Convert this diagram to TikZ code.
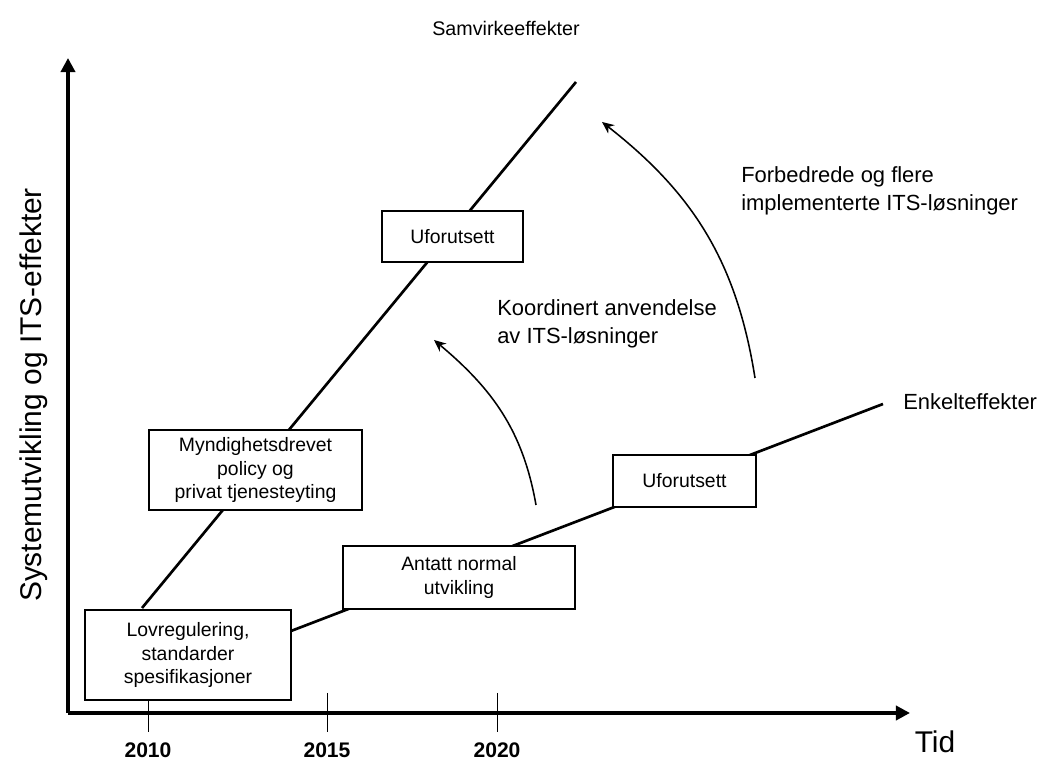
\documentclass[tikz,border=0pt]{standalone}
\usepackage{fontspec}
\setmainfont{Liberation Sans}
\usetikzlibrary{arrows.meta,positioning,calc}

\begin{document}
\begin{tikzpicture}[x=0.025cm, y=0.025cm, > = {Stealth[length=8.5pt,width=7.5pt]}]
    % Stiler
    \tikzstyle{akse}=[line width=2.8pt, -{Triangle[length=10pt,width=10pt]}]
    \tikzstyle{trend}=[line width=1.9pt]
    \tikzstyle{boks}=[draw, line width=0.8pt, fill=white, align=center, inner sep=2pt,
        font=\fontsize{13.8}{16.7}\selectfont]
    \tikzstyle{tekst}=[inner sep=0pt, align=left, font=\fontsize{15.6}{19.5}\selectfont]
    \tikzstyle{aar}=[inner sep=0pt, font=\fontsize{15}{18}\selectfont\bfseries]
    \tikzstyle{pil}=[->, line width=1.1pt]

    \useasboundingbox (0,0) rectangle (1044,760);

    % Akser
    \coordinate (o) at (68,47);
    \coordinate (ytopp) at (68,702);
    \coordinate (xslutt) at (910,47);
    \draw[akse] (o) -- (ytopp);
    \draw[akse] (o) -- (xslutt);

    % Aarstall
    \foreach \x/\aar in {148/2010, 327/2015, 497/2020} {
        \coordinate (t\aar) at (\x,67);
        \draw[line width=0.7pt] (t\aar) -- ++(0,-39);
        \node[aar] (l\aar) at (\x,10) {\aar};
    }

    % Aksetitler
    \node[font=\fontsize{21.3}{24}\selectfont, inner sep=0pt] (tid) at (935,18) {Tid};
    \node[font=\fontsize{21.3}{24}\selectfont, inner sep=0pt, rotate=90] (yakse) at (34,365)
        {Systemutvikling og ITS-effekter};

    % Linjer
    \coordinate (samstart) at (142,152);
    \coordinate (samslutt) at (576,678);
    \coordinate (enkstart) at (291,129);
    \coordinate (enkslutt) at (883,356);
    \draw[trend] (samstart) -- (samslutt);
    \draw[trend] (enkstart) -- (enkslutt);

    % Bokser
    \node[boks, minimum width=5.15cm, minimum height=2.25cm] (lov) at (188,105)
        {Lovregulering,\\standarder\\spesifikasjoner};
    \node[boks, minimum width=5.325cm, minimum height=2cm] (myndig) at (255.5,290)
        {Myndighetsdrevet\\policy og\\privat tjenesteyting};
    \node[boks, minimum width=3.525cm, minimum height=1.275cm] (ufor1) at (452.5,523.5)
        {Uforutsett};
    \node[boks, minimum width=5.8cm, minimum height=1.575cm] (antatt) at (459,182.5)
        {Antatt normal\\utvikling};
    \node[boks, minimum width=3.575cm, minimum height=1.3cm] (ufor2) at (684.5,279)
        {Uforutsett};

    % Etiketter
    \node[inner sep=0pt, font=\fontsize{14}{17}\selectfont] (samv) at (506,732) {Samvirkeeffekter};
    \node[tekst, anchor=west] (enkelt) at (903,358) {Enkelteffekter};
    \node[tekst, anchor=west] (koord) at (497,436) {Koordinert anvendelse\\av ITS-løsninger};
    \node[tekst, anchor=west] (forb) at (741,569) {Forbedrede og flere\\implementerte ITS-løsninger};

    % Piler
    \coordinate (p1start) at (536,255);
    \coordinate (p1slutt) at (434,420);
    \coordinate (p2start) at (755,382);
    \coordinate (p2slutt) at (602,638);
    \draw[pil] (p1start) to [out=100,in=-40] (p1slutt);
    \draw[pil] (p2start) to [out=99,in=-38] (p2slutt);
\end{tikzpicture}
\end{document}
